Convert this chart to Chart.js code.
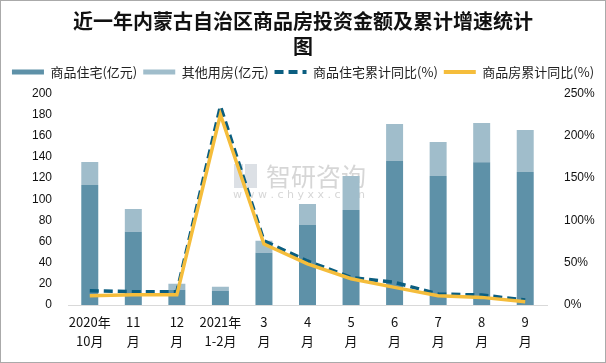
<!DOCTYPE html>
<html>
<head>
<meta charset="utf-8">
<script src="https://cdn.jsdelivr.net/npm/chart.js@4/dist/chart.umd.min.js"></script>
<style>
  body { margin: 0; background: #fff; }
  #box { width: 604px; height: 361px; border: 1px solid #aaa; position: relative; }
</style>
</head>
<body>
<div id="box"><canvas id="c" width="604" height="361"></canvas></div>
<script>
// categories
const labels = [
    ['2020年', '10月'], ['11', '月'], ['12', '月'], ['2021年', '1-2月'],
    ['3', '月'], ['4', '月'], ['5', '月'], ['6', '月'], ['7', '月'], ['8', '月'], ['9', '月']
];
// 亿元
const residential = [113.5, 69.2, 14.4, 13.5, 49.3, 75.7, 89.9, 136, 122, 135, 125.8];
const otherUse = [21.7, 21.6, 5.6, 3.8, 11.4, 19.8, 32.1, 35, 32, 37, 39.6];
// %
const residentialGrowth = [16.9, 15.7, 15.7, 235, 75.8, 52, 32.6, 26.7, 13, 11.8, 5.9];
const totalGrowth = [11, 12.1, 12, 225, 72, 48.7, 31, 20.8, 11, 9, 3.9];

const leftTicks = [0, 20, 40, 60, 80, 100, 120, 140, 160, 180, 200];
const rightTicks = [0, 50, 100, 150, 200, 250];

// watermark + a bit more room under the legend
const watermark = {
    id: 'watermark',
    beforeLayout(chart) {
        const lg = chart.legend;
        if (lg && !lg._wrapped) {
            const fit = lg.fit;
            lg.fit = function () { fit.call(this); this.height += 5; };
            lg._wrapped = true;
        }
    },
    beforeDatasetsDraw(chart) {
        const ctx = chart.ctx;
        ctx.save();
        ctx.globalAlpha = 0.35;
        ctx.fillStyle = '#9aa5b5';
        ctx.fillRect(233, 163, 9, 24);
        ctx.fillRect(244, 163, 12, 24);
        ctx.fillStyle = '#8a8a8a';
        ctx.font = '25px "Noto Sans CJK SC"';
        ctx.textBaseline = 'middle';
        ctx.fillText('智研咨询', 265, 175);
        ctx.font = '11px "DejaVu Sans"';
        ctx.fillText('w w w . c h y x x . c o m', 232, 194);
        ctx.restore();
    }
};

const config = {
    data: {
        labels: labels,
        datasets: [{
            type: 'line',
            label: '商品住宅累计同比(%)',
            data: residentialGrowth,
            yAxisID: 'y1',
            borderColor: '#0b5e80',
            backgroundColor: '#0b5e80',
            borderWidth: 3.5,
            borderDash: [9, 5],
            pointRadius: 0,
            order: 1
        }, {
            type: 'line',
            label: '商品房累计同比(%)',
            data: totalGrowth,
            yAxisID: 'y1',
            borderColor: '#f5bd3b',
            backgroundColor: '#f5bd3b',
            borderWidth: 3.5,
            pointRadius: 0,
            order: 0
        }, {
            type: 'bar',
            label: '商品住宅(亿元)',
            data: residential,
            yAxisID: 'y',
            backgroundColor: '#5e91a8',
            barPercentage: 0.39,
            categoryPercentage: 1,
            order: 2
        }, {
            type: 'bar',
            label: '其他用房(亿元)',
            data: otherUse,
            yAxisID: 'y',
            backgroundColor: '#a0bdcb',
            barPercentage: 0.39,
            categoryPercentage: 1,
            order: 3
        }]
    },
    options: {
        responsive: false,
        animation: false,
        layout: { padding: 0 },
        plugins: {
            title: {
                display: true,
                text: ['近一年内蒙古自治区商品房投资金额及累计增速统计', '图'],
                color: '#111',
                font: { size: 20, weight: 'bold', family: '"Noto Sans CJK SC"', lineHeight: 1.26 },
                padding: { top: 8, bottom: 0 }
            },
            legend: {
                labels: {
                    usePointStyle: true,
                    pointStyleWidth: 32,
                    boxHeight: 12,
                    padding: 6,
                    color: '#222',
                    font: { size: 13, family: '"Noto Sans CJK SC"' },
                    generateLabels(chart) {
                        const order = [2, 3, 0, 1];
                        return order.map(i => {
                            const ds = chart.data.datasets[i];
                            return {
                                text: ds.label,
                                datasetIndex: i,
                                pointStyle: 'line',
                                strokeStyle: ds.type === 'bar' ? ds.backgroundColor : ds.borderColor,
                                fillStyle: ds.type === 'bar' ? ds.backgroundColor : ds.borderColor,
                                lineWidth: ds.type === 'bar' ? 5 : 4,
                                lineDash: ds.borderDash || [],
                                fontColor: '#222'
                            };
                        });
                    }
                }
            },
            tooltip: { enabled: false }
        },
        scales: {
            x: {
                stacked: true,
                grid: { display: false, drawTicks: false },
                border: { color: '#d9d9d9' },
                afterFit(axis) { axis.height = 57; },
                ticks: {
                    color: '#111',
                    font: { size: 13, family: '"Noto Sans CJK SC"', lineHeight: 1.46 },
                    maxRotation: 0,
                    autoSkip: false,
                    padding: 8
                }
            },
            y: {
                stacked: true,
                position: 'left',
                min: 0,
                max: 200,
                afterBuildTicks(axis) { axis.ticks = leftTicks.map(v => ({ value: v })); },
                afterFit(axis) { axis.width = 67; },
                grid: { display: false, drawTicks: false },
                border: { display: false },
                ticks: {
                    color: '#111',
                    font: { size: 12, family: '"Liberation Sans"' },
                    padding: 16
                }
            },
            y1: {
                position: 'right',
                min: 0,
                max: 250,
                afterBuildTicks(axis) { axis.ticks = rightTicks.map(v => ({ value: v })); },
                afterFit(axis) { axis.width = 58; },
                grid: { display: false, drawTicks: false },
                border: { display: false },
                ticks: {
                    color: '#111',
                    font: { size: 12, family: '"Liberation Sans"' },
                    padding: 17,
                    callback: v => v + '%'
                }
            }
        }
    },
    plugins: [watermark]
};

const myChart = new Chart(document.getElementById('c'), config);
</script>
</body>
</html>
